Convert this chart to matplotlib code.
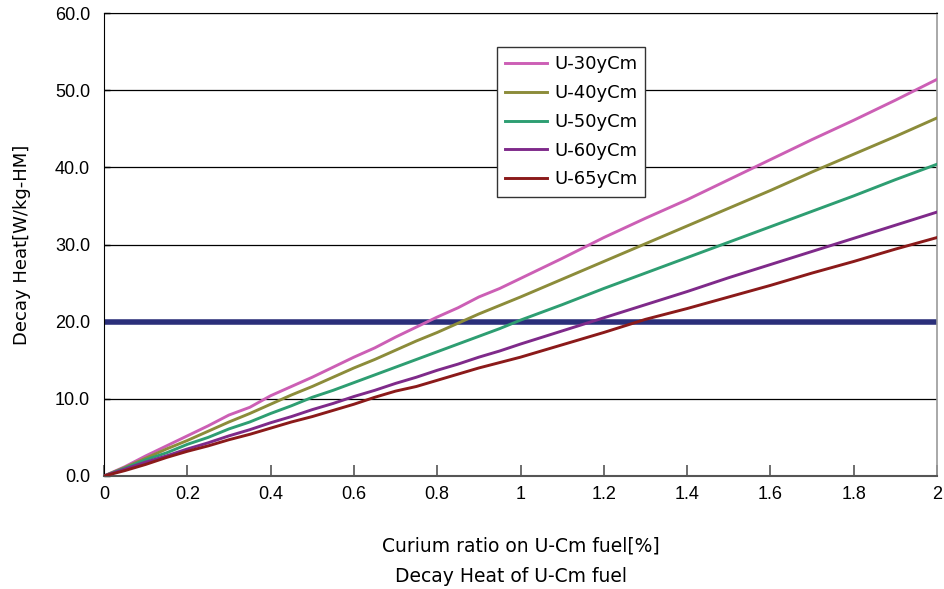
import matplotlib
matplotlib.use("Agg")
import matplotlib.pyplot as plt

x = [0, 0.05, 0.1, 0.15, 0.2, 0.25, 0.3, 0.35, 0.4, 0.45, 0.5, 0.55, 0.6, 0.65, 0.7,
     0.75, 0.8, 0.85, 0.9, 0.95, 1.0, 1.1, 1.2, 1.3, 1.4, 1.5, 1.6, 1.7, 1.8, 1.9, 2.0]

u30 = [0, 1.2, 2.6, 3.9, 5.2, 6.5, 7.9, 8.9, 10.4, 11.6, 12.8, 14.1, 15.4, 16.6, 18.0,
       19.3, 20.6, 21.8, 23.2, 24.3, 25.6, 28.2, 30.9, 33.4, 35.8, 38.4, 41.0, 43.6, 46.1, 48.7, 51.4]
u40 = [0, 1.1, 2.3, 3.5, 4.6, 5.8, 7.0, 8.1, 9.3, 10.5, 11.6, 12.8, 14.0, 15.1, 16.3,
       17.5, 18.6, 19.8, 21.0, 22.1, 23.2, 25.5, 27.8, 30.1, 32.4, 34.7, 37.0, 39.4, 41.7, 44.0, 46.4]
u50 = [0, 1.0, 2.1, 3.0, 4.1, 5.0, 6.1, 7.0, 8.1, 9.1, 10.2, 11.1, 12.1, 13.1, 14.1,
       15.1, 16.1, 17.1, 18.1, 19.1, 20.2, 22.2, 24.3, 26.3, 28.3, 30.3, 32.3, 34.3, 36.3, 38.4, 40.4]
u60 = [0, 0.9, 1.8, 2.6, 3.5, 4.3, 5.2, 6.0, 6.9, 7.7, 8.6, 9.4, 10.3, 11.1, 12.0,
       12.8, 13.7, 14.5, 15.4, 16.2, 17.1, 18.8, 20.5, 22.2, 23.9, 25.7, 27.4, 29.1, 30.8, 32.5, 34.2]
u65 = [0, 0.7, 1.5, 2.4, 3.2, 3.9, 4.7, 5.4, 6.2, 7.0, 7.7, 8.5, 9.3, 10.2, 11.0,
       11.6, 12.4, 13.2, 14.0, 14.7, 15.4, 17.0, 18.6, 20.3, 21.7, 23.2, 24.7, 26.3, 27.8, 29.4, 30.9]

labels = ["U-30yCm", "U-40yCm", "U-50yCm", "U-60yCm", "U-65yCm"]
colors = ["#cc5fb5", "#8c8c3a", "#2e9e72", "#7f2a8a", "#8b1a1a"]
limit = 20.0

xticks = [0, 0.2, 0.4, 0.6, 0.8, 1.0, 1.2, 1.4, 1.6, 1.8, 2.0]
xticklabels = ["0", "0.2", "0.4", "0.6", "0.8", "1", "1.2", "1.4", "1.6", "1.8", "2"]
yticks = [0, 10, 20, 30, 40, 50, 60]

lab = ["DejaVu Sans"]
num = ["Liberation Sans", "DejaVu Sans"]

fig = plt.figure(figsize=(9.44, 5.89), dpi=100)
ax = fig.add_axes([104/944, 1-476/589, (937-104)/944, (476-13)/589])

for v in yticks[1:]:
    ax.axhline(v, color="black", lw=0.9, zorder=1)

ax.axhline(limit, color="#2b2f7a", lw=4, zorder=2)

series = [u30, u40, u50, u60, u65]
for s, lb, c in zip(series, labels, colors):
    ax.plot(x, s, color=c, lw=2.1, label=lb, zorder=3)

ax.set_xlim(0, 2)
ax.set_ylim(0, 60)
ax.set_xticks(xticks)
ax.set_xticklabels(xticklabels, fontfamily=num, fontsize=13)
ax.set_yticks(yticks)
ax.set_yticklabels([f"{v:.1f}" for v in yticks], fontfamily=num, fontsize=13)
ax.tick_params(axis="x", direction="in", length=8, width=1.2, color="#555555", pad=7)
ax.tick_params(axis="y", direction="in", length=4, width=1, pad=10)

for side in ["left", "top"]:
    ax.spines[side].set_color("black")
ax.spines["bottom"].set_color("#555555")
ax.spines["bottom"].set_linewidth(1.5)
ax.spines["right"].set_color("#999999")
ax.spines["right"].set_linewidth(1.2)

ax.set_xlabel("Curium ratio on U-Cm fuel[%]", fontfamily=lab, fontsize=13.5, labelpad=24)
ax.set_ylabel("Decay Heat[W/kg-HM]", fontfamily=lab, fontsize=13, labelpad=17)

fig.text(511/944, 1-577/589, "Decay Heat of U-Cm fuel", fontfamily=lab, fontsize=13.5,
         ha="center", va="center")

leg = ax.legend(loc="upper left", bbox_to_anchor=(0.461, 0.946), frameon=True,
                fancybox=False, edgecolor="#333333", framealpha=1,
                prop={"family": lab, "size": 13}, handlelength=2.3,
                labelspacing=0.6, borderpad=0.45, handletextpad=0.4)
leg.get_frame().set_linewidth(1.0)

fig.savefig("out.png", dpi=100)
